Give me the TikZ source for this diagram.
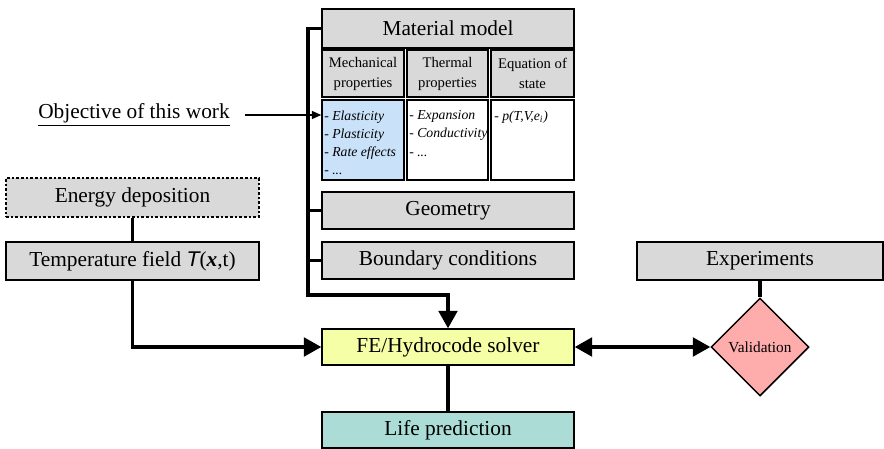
\documentclass[tikz,border=0pt]{standalone}
\usepackage{fontspec}
\setmainfont{Liberation Serif}
\newfontfamily\lsans{Liberation Sans}
\usetikzlibrary{arrows.meta,shapes.geometric}
\definecolor{boxgray}{HTML}{D9D9D9}
\definecolor{mechblue}{HTML}{C9E2FA}
\definecolor{solveryellow}{HTML}{F5FFA6}
\definecolor{lifeteal}{HTML}{ABDCD6}
\definecolor{valpink}{HTML}{FFACAC}
\begin{document}
\begin{tikzpicture}[x=0.75pt,y=-0.75pt,
  bigbox/.style={draw=black,line width=1.1pt,fill=boxgray,inner sep=0pt,
    font=\fontsize{16}{19}\selectfont},
  hdrbox/.style={draw=black,line width=1.6pt,fill=boxgray,inner sep=0pt,align=center,
    minimum height=35.25pt,font=\fontsize{11}{15}\selectfont},
  contbox/.style={draw=black,line width=1.1pt,fill=white,inner sep=0pt,minimum height=60pt},
  conttext/.style={inner sep=0pt,anchor=north west,align=left,
    font=\fontsize{10.3}{13.6}\selectfont\itshape},
  bus/.style={line width=2.3pt},
  tip/.style={-{Triangle[length=13pt,width=14pt]}},
]
\useasboundingbox (0,0) rectangle (884,449);

% material model block
\node[bigbox,minimum width=189pt,minimum height=29.25pt] (mm) at (448,28.5) {Material model};
\node[hdrbox,minimum width=61.5pt] (mech) at (363,73.5) {Mechanical\\properties};
\node[hdrbox,minimum width=60.75pt] (therm) at (447.5,73.5) {Thermal\\properties};
\node[hdrbox,minimum width=62.25pt] (eos) at (532.5,73.5) {Equation of\\state};
\node[contbox,fill=mechblue,minimum width=61.5pt] (mechc) at (363,140) {};
\node[contbox,minimum width=60.75pt] (thermc) at (447.5,140) {};
\node[contbox,minimum width=62.25pt] (eosc) at (532.5,140) {};
\node[conttext] (mecht) at (324,110.5) {- Elasticity\\- Plasticity\\- Rate effects\\- ...};
\node[conttext] (thermt) at (409,110.5) {- Expansion\\- Conductivity\\- ...};
\node[conttext] (eost) at (494,110.5) {- p(T,V,e\textsubscript{i})};

\node[bigbox,minimum width=189pt,minimum height=27.75pt] (geo) at (448,210.5) {Geometry};
\node[bigbox,minimum width=189pt,minimum height=27.75pt] (bc) at (448,260.5) {Boundary conditions};
\node[bigbox,fill=solveryellow,minimum width=189pt,minimum height=27pt] (fe) at (448,347) {FE/Hydrocode solver};
\node[bigbox,fill=lifeteal,minimum width=189pt,minimum height=27pt] (life) at (448,430) {Life prediction};

% left column
\node[bigbox,dashed,dash pattern=on 2pt off 1.5pt,minimum width=189.75pt,minimum height=29.25pt] (energy) at (132.5,197.5) {Energy deposition};
\node[bigbox,minimum width=189.75pt,minimum height=28.5pt] (temp) at (132.5,261)
  {Temperature field {\lsans\itshape T}(\textbf{\textit{x}},t)};
\node[inner sep=0pt,font=\fontsize{16}{19}\selectfont] (obj) at (134,115) {\underline{Objective of this work}};

% right column
\node[bigbox,minimum width=184.5pt,minimum height=28.5pt] (exp) at (760,261) {Experiments};
\node[diamond,draw=black,line width=1.1pt,fill=valpink,inner sep=0pt,minimum size=73.5pt,
  font=\fontsize{11.5}{14}\selectfont] (val) at (760,347) {Validation};

% connectors
\coordinate (bustop) at (308,28.5);
\coordinate (busbot) at (308,295);
\draw[bus,tip,line join=miter] (mm.west) -- (bustop) -- (busbot) -- (busbot -| fe.north) -- (fe.north);
\draw[bus] (geo.west -| bustop) -- (geo.west);
\draw[bus] (bc.west -| bustop) -- (bc.west);
\draw[line width=1pt,-{Triangle[length=7pt,width=6pt]}] ([xshift=11pt]obj.east) -- (obj.east -| mechc.west);
\draw[bus] (energy.south) -- (temp.north);
\draw[bus,tip] (temp.south) |- (fe.west);
\draw[bus,{Triangle[length=13pt,width=14pt]}-{Triangle[length=13pt,width=14pt]}] (fe.east) -- (val.west);
\draw[bus] (exp.south) -- (val.north);
\draw[bus] (fe.south) -- (life.north);
\end{tikzpicture}
\end{document}
